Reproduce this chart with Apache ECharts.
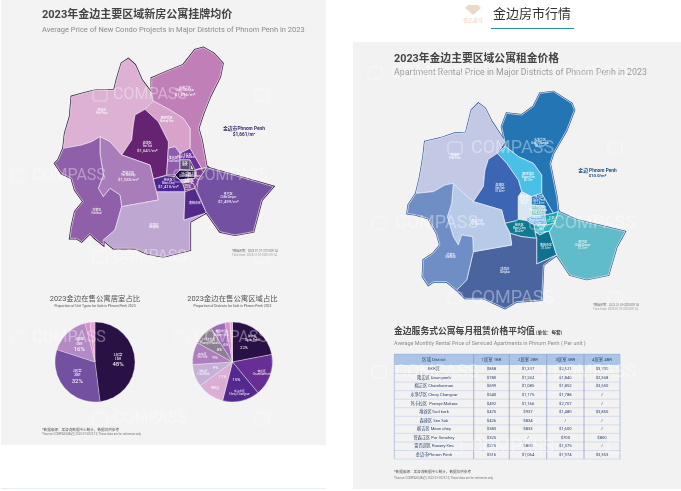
<!DOCTYPE html>
<html>
<head>
<meta charset="utf-8">
<style>html,body{margin:0;padding:0;background:#fff}#main{width:681px;height:491px}</style>
<script src="https://cdn.jsdelivr.net/npm/echarts@6/dist/echarts.min.js"></script>
</head>
<body>
<div id="main"></div>
<script>
// 挂牌均价 ($/m²)，看不清的地方按图估计
var condoNames = ['普诺区','水净华区','雷西郊区','森速区','菩森芷区','甘蒙区','唐高区','堆谷区','马卡拉区','灰区','隆边区','棉芷区','浅区','玛区','棉吉区','南棉吉区','查巴区'];
var condoEnglish = ['Prek Pnov','Chroy Changvar','Russey Keo','Sen Sok','Por Senchey','Kamboul','Dangkao','Tuol Kork','Prampi Makara','BKK','Daun Penh','Chamkarmon','','','Mean Chey','','Chbar Ampov'];
var condoPrices = [1200,1896,1450,1641,1535,1300,1250,1700,1750,1800,2300,2100,1600,1500,1415,1400,1499];
var condoShowPrice = [0,1,0,1,1,0,0,0,0,0,0,0,0,0,1,0,1];
var condoColors = ['#dcb1d3','#c07fb6','#d7a3cb','#662372','#a97dba','#8f5fa9','#bea8d2','#8e5bad','#6a2d9c','#584c72','#1f0f47','#7c3d90','#cdb5d6','#7c3d90','#4d2691','#532a8c','#7350a2'];

// 公寓租金 ($/m²)
var rentNames = ['普诺区','水净华区','雷西郊区','森速区','堆谷区','隆边区','马卡拉区','棉芷区','BKK区','万区','棉吉区','南棉吉区','查巴区','唐高区','菩森芷区','甘蒙区'];
var rentEnglish = ['Prek Pnov','Chroy Changvar','Russey Keo','Sen Sok','Tuol Kork','Daun Penh','Prampi Makara','Chamkarmon','BKK','','Mean Chey','','Chbar Ampov','Dangkao','Por Senchey','Kamboul'];
var rentPrices = [6.5,9.5,8.1,7.8,9.0,12.8,10.3,11.5,13.2,11.0,8.4,7.5,7.2,6.0,7.1,6.3];
var rentColors = ['#c3c9e5','#2475b3','#4bc0e6','#3c66b3','#dbe6f3','#1f6fb9','#8fc9c9','#7fb8e8','#2db6bf','#12a8a8','#0f7a90','#10708f','#5fbcc8','#49649f','#b7cae8','#6f8ec5'];

// 饼图
var unitNames = ['1居室\n1BR','2居室\n2BR','3居室\n3BR','',''];
var unitShares = [48,32,16,2,2];
var unitColors = ['#2a1145','#7350a0','#b48ac4','#d78fc8','#e3a6d6'];

var districtNames = ['隆边区\nDaun Penh','棉芷区\nChamkarmon','水净华区\nChroy Changvar','BKK区','堆谷区\nTuol Kork','森速区\nSen Sok','玛卡拉区\nPrampi Makara','雷西郊区\nRussey Keo','',''];
var districtShares = [22,17,15,11,9,9,8,6,2,1];
var districtColors = ['#2a1145','#672e93','#53298d','#dbaed6','#c5b0d8','#ad7fbc','#8c7f94','#9f6bb8','#d98fc8','#e3a6d6'];

// 租赁价格表
var tableHeader = ['区域 District','1居室 1BR','2居室 2BR','3居室 3BR','4居室 4BR'];
var tableDistricts = ['BKK区','隆边区 Daun penh','棉芷区 Chamkarmon','水净华区 Chroy Changvar','玛卡拉区  Prampi Makara','堆谷区Tuol kork','森速区 Sen Sok','棉吉区 Mean chey','菩森芷区 Por Senchey','雷西郊区 Russey Keo','金边市Phnom Penh'];
var rent1BR = ['$858','$780','$699','$540','$492','$475','$426','$383','$325','$275','$516'];
var rent2BR = ['$1,337','$1,284','$1,085','$1,175','$1,166','$937','$834','$833','/','$850','$1,064'];
var rent3BR = ['$2,521','$1,840','$1,852','$1,788','$2,707','$1,480','/','$1,600','$700','$1,375','$1,974'];
var rent4BR = ['$3,700','$2,358','$3,550','/','/','$3,850','/','/','$800','/','$3,353'];

// 地图边界，单位是描图用的坐标，由 boundingCoords 换算到页面
var condoShapes = [
  [[155,290],[180,283],[230,270],[283,270],[290,240],[305,190],[325,177],[345,195],[365,240],[395,280],[400,303],[375,328],[345,345],[340,375],[335,420],[305,465],[270,425],[240,410],[215,425],[185,435],[130,445],[135,400],[150,350],[155,290]],
  [[395,235],[440,215],[490,195],[525,150],[550,143],[580,160],[608,190],[600,230],[570,290],[550,340],[535,385],[545,420],[560,503],[545,505],[510,445],[510,385],[490,355],[450,330],[400,303],[395,280],[395,235]],
  [[400,303],[450,330],[490,355],[510,385],[510,445],[480,460],[465,440],[445,445],[445,425],[415,365],[375,328],[400,303]],
  [[375,328],[415,365],[445,425],[445,445],[440,525],[438,527],[400,537],[390,495],[305,465],[335,420],[340,375],[345,345],[375,328]],
  [[240,410],[270,425],[305,465],[390,495],[400,537],[410,575],[415,600],[305,620],[300,585],[270,565],[250,590],[235,565],[250,525],[240,460],[240,410]],
  [[130,445],[185,435],[215,425],[240,410],[240,460],[250,525],[235,565],[250,590],[270,565],[300,585],[305,620],[285,690],[250,720],[250,735],[225,715],[210,700],[185,725],[170,715],[150,715],[155,680],[165,635],[190,605],[165,570],[155,535],[125,520],[105,490],[115,480],[130,445]],
  [[305,620],[415,600],[410,575],[445,575],[495,575],[492,660],[555,640],[510,665],[510,750],[430,770],[380,760],[345,745],[280,745],[250,720],[285,690],[305,620]],
  [[445,445],[465,440],[480,460],[480,515],[465,525],[440,525],[445,445]],
  [[480,460],[510,445],[545,505],[525,510],[510,480],[480,480],[480,460]],
  [[480,480],[510,480],[510,510],[480,510],[480,480]],
  [[465,525],[480,510],[525,512],[525,535],[480,540],[465,525]],
  [[525,510],[560,503],[535,540],[525,565],[510,540],[525,535],[525,510]],
  [[480,540],[515,535],[520,545],[490,550],[480,540]],
  [[490,555],[520,550],[525,565],[495,570],[490,555]],
  [[400,537],[438,527],[465,530],[480,540],[490,555],[495,575],[445,575],[410,575],[400,537]],
  [[495,575],[525,565],[558,635],[555,640],[492,660],[495,575]],
  [[560,503],[640,525],[760,560],[725,600],[700,695],[645,705],[600,695],[558,635],[530,570],[535,540],[560,503]]
];
var condoCenters = [[245,335],[495,275],[440,358],[382,442],[325,530],[230,635],[402,678],[460,478],[497,468],[495,492],[497,525],[518,525],[500,543],[505,560],[445,552],[525,610],[625,595]];

var rentShapes = [
  [[105,155],[150,145],[195,130],[228,128],[235,100],[245,60],[265,40],[285,55],[305,95],[345,155],[322,190],[295,208],[285,240],[280,290],[250,335],[220,310],[190,280],[165,285],[130,305],[78,310],[90,260],[100,200],[105,155]],
  [[335,110],[350,70],[395,75],[430,50],[450,10],[490,5],[545,40],[553,60],[530,120],[490,190],[480,220],[500,320],[505,365],[490,370],[455,310],[455,255],[430,220],[385,200],[345,168],[345,155],[335,110]],
  [[345,168],[385,200],[430,220],[455,255],[455,310],[425,320],[395,305],[385,270],[350,220],[322,190],[345,168]],
  [[322,190],[350,220],[385,270],[395,305],[385,320],[385,388],[380,392],[345,400],[335,360],[250,335],[280,290],[285,240],[295,208],[322,190]],
  [[395,305],[425,320],[425,378],[410,385],[410,392],[385,388],[385,320],[395,305]],
  [[425,320],[455,310],[490,370],[465,375],[465,348],[425,345],[425,320]],
  [[425,345],[465,348],[465,375],[425,378],[425,345]],
  [[410,385],[425,378],[465,375],[470,405],[432,405],[410,392],[410,385]],
  [[432,405],[470,405],[495,398],[478,425],[470,425],[450,435],[435,425],[432,405]],
  [[465,375],[490,370],[505,365],[495,398],[470,405],[465,375]],
  [[345,400],[380,392],[385,388],[410,392],[432,405],[435,425],[440,445],[395,440],[360,430],[345,400]],
  [[435,425],[450,435],[470,425],[478,425],[500,495],[440,522],[440,445],[435,425]],
  [[505,365],[560,390],[705,425],[680,470],[655,555],[590,568],[540,555],[500,495],[478,425],[495,398],[505,365]],
  [[250,485],[365,465],[360,430],[395,440],[440,445],[440,522],[500,495],[460,525],[455,630],[380,635],[345,655],[280,625],[225,625],[200,600],[230,570],[250,485]],
  [[190,280],[220,310],[250,335],[335,360],[345,400],[360,430],[365,465],[250,485],[248,440],[215,435],[205,465],[190,440],[172,380],[185,340],[190,280]],
  [[78,310],[130,305],[165,285],[190,280],[185,340],[172,380],[190,440],[205,465],[215,435],[248,440],[250,485],[230,570],[200,600],[170,575],[130,575],[115,585],[98,560],[100,510],[130,490],[150,465],[140,430],[115,385],[80,375],[52,370],[55,345],[78,310]]
];
var rentCenters = [[195,200],[450,160],[415,262],[330,295],[403,330],[447,330],[445,360],[440,390],[455,418],[485,388],[388,415],[468,470],[578,465],[345,542],[262,397],[182,498]];

function buildGeo(names, shapes, centers) {
  return {
    type: 'FeatureCollection',
    features: names.map(function (name, i) {
      return {
        type: 'Feature',
        properties: { name: name, cp: [centers[i][0], -centers[i][1]] },
        geometry: { type: 'Polygon', coordinates: [shapes[i].map(function (p) { return [p[0], -p[1]]; })] }
      };
    })
  };
}
echarts.registerMap('condo', buildGeo(condoNames, condoShapes, condoCenters));
echarts.registerMap('rent', buildGeo(rentNames, rentShapes, rentCenters));

var cjk = '"Noto Sans CJK SC","Noto Sans",sans-serif';
var latin = 'Roboto,"Noto Sans CJK SC",sans-serif';

function txt(x, y, s, size, color, weight, align) {
  return { type: 'text', x: x, y: y, z: 6, silent: true, style: {
    text: s, fontSize: size, fill: color, fontWeight: weight || 'normal', fontFamily: latin,
    align: align || 'left', verticalAlign: 'middle' } };
}

var graphics = [
  { type: 'rect', z: -10, shape: { x: 1, y: 0, width: 325, height: 445 }, style: { fill: '#f3f3f3' } },
  { type: 'rect', z: -10, shape: { x: 353, y: 42, width: 328, height: 447 }, style: { fill: '#f2f2f2' } },
  { type: 'rect', z: -10, shape: { x: 1, y: 488, width: 325, height: 1 }, style: { fill: '#e6edfb' } },
  // 顶部
  { type: 'polygon', z: 6, shape: { points: [[468,5],[478,5],[481,8],[473,15],[465,8]] }, style: { fill: '#ecd8c8' } },
  txt(473, 21, '誉品壹号', 5, '#ecd0bb', 'normal', 'center'),
  txt(532, 15, '金边房市行情', 13, '#333', 'normal', 'center'),
  { type: 'rect', z: 6, shape: { x: 491, y: 28, width: 83, height: 1 }, style: { fill: '#2d89a8' } },
  // 左图文字
  txt(42, 15.5, '2023年金边主要区域新房公寓挂牌均价', 11, '#444', 'bold'),
  txt(42, 30, 'Average Price of New Condo Projects in Major Districts of Phnom Penh in 2023', 7.5, '#8a8a8a'),
  txt(244, 128.5, '金边市Phnom Penh', 4.8, '#3a2a6a', 'bold', 'center'),
  txt(244, 135, '$1,661/m²', 4.8, '#3a2a6a', 'bold', 'center'),
  txt(232, 251.5, '*数据周期：2023.01.01-2023.09.14', 2.9, '#666'),
  txt(232, 255, 'Time from: 2023.01.01-2023.09.14', 2.9, '#999'),
  txt(95, 299, '2023金边在售公寓居室占比', 7.4, '#555', 'normal', 'center'),
  txt(95, 305.7, 'Proportion of Unit Types for Sale in Phnom Penh 2023', 3.4, '#555', 'normal', 'center'),
  txt(232.5, 299, '2023金边在售公寓区域占比', 7.4, '#555', 'normal', 'center'),
  txt(232.5, 305.7, 'Proportion of Districts for Sale in Phnom Penh 2023', 3.4, '#555', 'normal', 'center'),
  txt(42, 429.7, '*数据来源：某咨询数据中心统计，数据仅供参考', 3.6, '#555'),
  txt(42, 434.7, '*Source: COMPASS(金边) 2023.01-2023.10, Those data are for reference only', 2.9, '#777'),
  // 右图文字
  txt(394, 59, '2023年金边主要区域公寓租金价格', 10.8, '#444', 'bold'),
  txt(394, 72.7, 'Apartment Rental Price in Major Districts of Phnom Penh in 2023', 8.8, '#9a9a9a'),
  txt(597.5, 171, '金边 Phnom Penh', 4.8, '#1d4f7c', 'bold', 'center'),
  txt(597.5, 176, '$10.0/m²', 4.2, '#1d4f7c', 'bold', 'center'),
  txt(593, 305, '*数据周期：2023.01.01-2023.09.14', 2.9, '#666'),
  txt(593, 309, 'Time from: 2023.01.01-2023.09.14', 2.9, '#999'),
  txt(394, 332, '金边服务式公寓每月租赁价格平均值', 8.8, '#444', 'bold'),
  txt(533, 332.5, '（单位：每套）', 4.6, '#444', 'bold'),
  txt(394, 343.3, 'Average Monthly Rental Price of Serviced Apartments in Phnom Penh ( Per unit )', 5.4, '#8a8a8a'),
  txt(394, 472, '*数据来源：某咨询数据中心统计，数据仅供参考', 3.6, '#555'),
  txt(394, 478, '*Source: COMPASS(金边) 2023.01-2023.10, Those data are for reference only', 2.9, '#777')
];

// 表格
var colEdges = [394.3, 473.7, 509.3, 546.7, 584, 620];
var tableTop = 354.3, headH = 10.7, rowH = 8.55;
var tableCols = [tableDistricts, rent1BR, rent2BR, rent3BR, rent4BR];
graphics.push({ type: 'rect', z: 3, shape: { x: colEdges[0], y: tableTop, width: colEdges[5] - colEdges[0], height: headH }, style: { fill: '#abc5e6' } });
tableHeader.forEach(function (h, c) {
  graphics.push(txt((colEdges[c] + colEdges[c + 1]) / 2, tableTop + headH / 2, h, 4.3, '#2b4a7f', 'normal', 'center'));
});
tableDistricts.forEach(function (d, r) {
  var y = tableTop + headH + rowH * r;
  graphics.push({ type: 'line', z: 4, shape: { x1: colEdges[0], y1: y + rowH, x2: colEdges[5], y2: y + rowH }, style: { stroke: '#b9c4e2', lineWidth: 0.5 } });
  tableCols.forEach(function (col, c) {
    graphics.push(txt((colEdges[c] + colEdges[c + 1]) / 2, y + rowH / 2, col[r], 4.2, '#2f4470', 'normal', 'center'));
  });
});
colEdges.forEach(function (x, i) {
  graphics.push({ type: 'line', z: 4, shape: { x1: x, y1: tableTop, x2: x, y2: tableTop + headH + rowH * tableDistricts.length }, style: { stroke: (i === 0 || i === 5) ? '#9fb6dd' : '#8d95c2', lineWidth: 0.7 } });
});
graphics.push({ type: 'line', z: 4, shape: { x1: colEdges[0], y1: tableTop, x2: colEdges[5], y2: tableTop }, style: { stroke: '#8fa8d5', lineWidth: 0.7 } });

// 水印
var marks = [[93,95],[255,95],[12,176],[174,176],[93,257],[255,257],[12,338],[174,338],[93,419],[255,419],
             [368,73],[528,73],[448,148],[608,148],[372,223],[530,223],[448,298],[608,298],[530,372],[372,372],[448,447],[608,447]];
marks.forEach(function (m) {
  var big = m[0] > 340;
  var edge = big ? 681 : 326;
  graphics.push({ type: 'rect', z: 8, silent: true, shape: { x: m[0], y: m[1] - 6, width: 14, height: 12, r: 3 },
    style: { fill: 'none', stroke: 'rgba(255,255,255,0.3)', lineWidth: 1.5 } });
  if (m[0] + 23 + (big ? 84 : 74) <= edge) {
    graphics.push({ type: 'text', z: 8, silent: true, x: m[0] + (big ? 23 : 20), y: m[1], style: {
      text: 'COMPASS', fontSize: big ? 18 : 16, fontFamily: latin, fill: 'rgba(255,255,255,0.36)', verticalAlign: 'middle' } });
  }
});

function mapLabel(names, english, values, suffix, shown) {
  return function (p) {
    var i = names.indexOf(p.name);
    var lines = ['{a|' + p.name + '}'];
    if (english[i]) { lines.push('{b|' + english[i] + '}'); }
    if (shown(i)) { lines.push('{c|' + suffix(values[i]) + '}'); }
    return lines.join('\n');
  };
}
function itemsOf(names, values, colors) {
  return names.map(function (n, i) {
    return { name: n, value: values[i], itemStyle: { areaColor: colors[i] } };
  });
}
function mapSeries(map, bounds, center, size, data, formatter, stroke, priceSize) {
  return {
    type: 'map', map: map, silent: true, roam: false, aspectScale: 1, selectedMode: false,
    boundingCoords: bounds, layoutCenter: center, layoutSize: size, z: 3,
    itemStyle: { borderColor: stroke, borderWidth: 0.7 },
    emphasis: { disabled: true },
    label: { show: true, formatter: formatter, color: '#fff', rich: {
      a: { fontSize: 3, lineHeight: 3.6, color: '#fff', fontFamily: cjk },
      b: { fontSize: 2.6, lineHeight: 3.2, color: '#fff', fontFamily: latin },
      c: { fontSize: priceSize, lineHeight: priceSize + 1, color: '#fff', fontFamily: latin }
    } },
    data: data
  };
}
var condoBounds = [[0, 0], [960, -840]], rentBounds = [[0, 0], [810, -660]];

var option = {
  animation: false,
  backgroundColor: '#fff',
  graphic: { elements: graphics },
  geo: [
    { map: 'condo', silent: true, aspectScale: 1, boundingCoords: condoBounds, layoutCenter: [180, 140], layoutSize: 320, z: 1,
      itemStyle: { areaColor: '#35173f', borderColor: '#35173f', borderWidth: 2.2 }, emphasis: { disabled: true } },
    { map: 'rent', silent: true, aspectScale: 1, boundingCoords: rentBounds, layoutCenter: [525, 200], layoutSize: 270, z: 1,
      itemStyle: { areaColor: '#1d4b8f', borderColor: '#1d4b8f', borderWidth: 2 }, emphasis: { disabled: true } }
  ],
  series: [
    mapSeries('condo', condoBounds, [180, 140], 320, itemsOf(condoNames, condoPrices, condoColors),
      mapLabel(condoNames, condoEnglish, condoPrices, function (v) { return '$' + echarts.format.addCommas(v) + '/m²'; }, function (i) { return condoShowPrice[i]; }), '#f3e9f3', 4.4),
    mapSeries('rent', rentBounds, [525, 200], 270, itemsOf(rentNames, rentPrices, rentColors),
      mapLabel(rentNames, rentEnglish, rentPrices, function (v) { return '$' + v + '/m²'; }, function (i) { return i > 0 && i < 13; }), '#eef3fa', 2.6),
    {
      type: 'pie', center: [95, 362], radius: 40, silent: true, avoidLabelOverlap: false,
      itemStyle: { borderColor: '#f3f3f3', borderWidth: 0.3 },
      label: { position: 'inside', color: '#fff',
        formatter: function (p) { return p.name ? p.name + '\n{p|' + p.value + '%}' : ''; },
        fontSize: 3.4, lineHeight: 4.4, fontFamily: cjk, rich: { p: { fontSize: 6, lineHeight: 8, color: '#fff', fontFamily: latin } } },
      labelLine: { show: false },
      data: unitNames.map(function (n, i) { return { name: n, value: unitShares[i], itemStyle: { color: unitColors[i] } }; })
    },
    {
      type: 'pie', center: [232.5, 362], radius: 40, silent: true, avoidLabelOverlap: false,
      itemStyle: { borderColor: '#f3f3f3', borderWidth: 0.4 },
      label: { show: false }, labelLine: { show: false },
      data: districtNames.map(function (n, i) { return { name: n + '#' + i, value: districtShares[i], itemStyle: { color: districtColors[i] } }; })
    },
    {
      // 区域名
      type: 'pie', center: [232.5, 362], radius: [16, 40], silent: true, avoidLabelOverlap: false, z: 4,
      itemStyle: { color: 'rgba(0,0,0,0)' },
      label: { position: 'inside', color: '#fff', fontSize: 2.8, lineHeight: 3.5, fontFamily: cjk,
        formatter: function (p) { return districtNames[p.dataIndex]; } },
      labelLine: { show: false },
      data: districtShares.map(function (v, i) { return { name: 'n' + i, value: v }; })
    },
    {
      // 百分比
      type: 'pie', center: [232.5, 362], radius: [0, 30], silent: true, avoidLabelOverlap: false, z: 4,
      itemStyle: { color: 'rgba(0,0,0,0)' },
      label: { position: 'inside', color: '#fff', fontSize: 4.2, fontFamily: latin,
        formatter: function (p) { return districtNames[p.dataIndex] ? p.value + '%' : ''; } },
      labelLine: { show: false },
      data: districtShares.map(function (v, i) { return { name: 'p' + i, value: v }; })
    }
  ]
};

var myChart = echarts.init(document.getElementById('main'));
myChart.setOption(option);
</script>
</body>
</html>
